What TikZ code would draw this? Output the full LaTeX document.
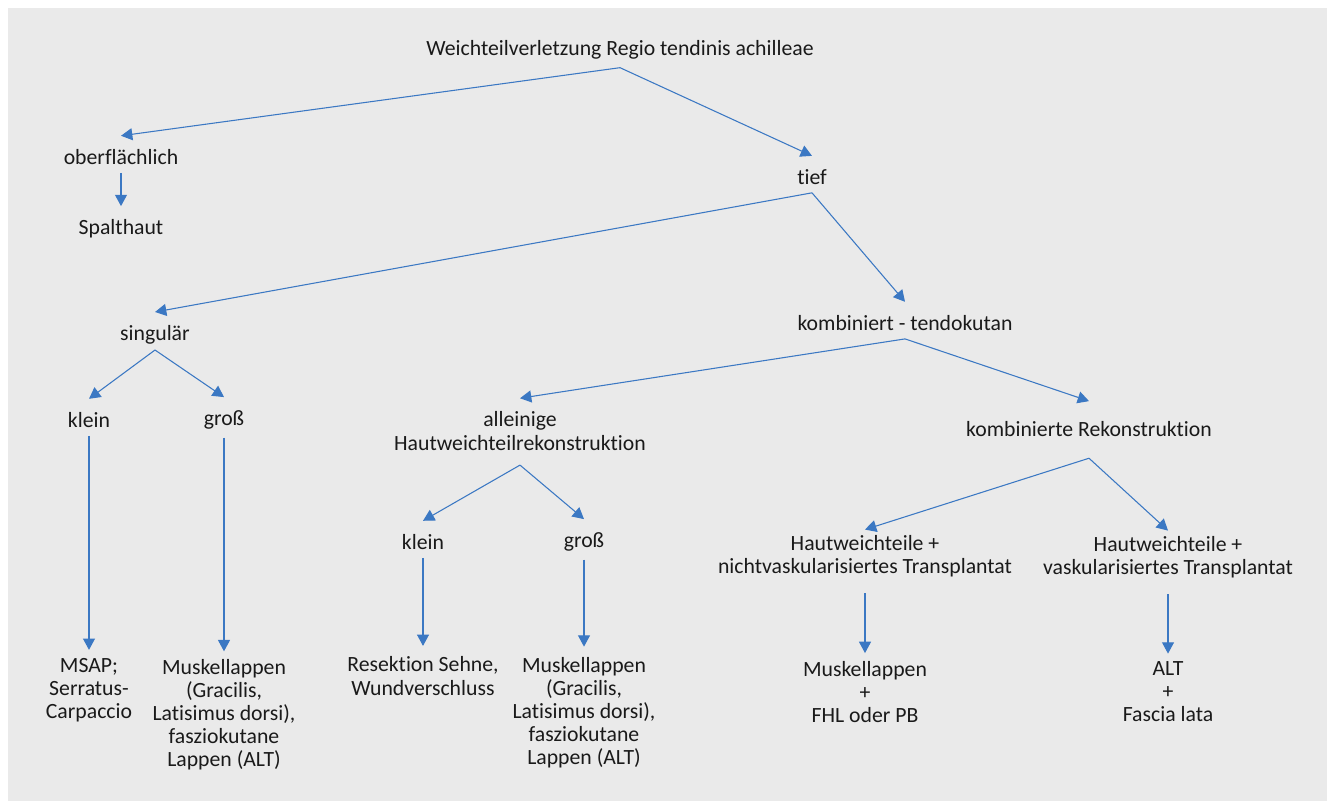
\documentclass[tikz,border=0pt]{standalone}
\usepackage{fontspec}
\setmainfont{Carlito}[Ligatures=NoCommon]
\usepackage{tikz}
\usetikzlibrary{arrows.meta,calc}

\definecolor{panelgray}{HTML}{EAEAEA}
\definecolor{arrowblue}{HTML}{3B78C3}
\definecolor{textblack}{HTML}{1A1A1A}

\begin{document}
\begin{tikzpicture}[x=0.75pt, y=-0.75pt,
    lbl/.style={align=center, inner sep=0pt, text=textblack, font=\fontsize{16.3}{17.3}\selectfont},
    arr/.style={color=arrowblue, line width=0.8pt, -{Triangle[length=8.5pt,width=9pt]}}]
    % background panel
    \useasboundingbox (0,0) rectangle (1327,801);
    \fill[panelgray] (8,8) rectangle (1327,801);

    % top level
    \node[lbl] (root) at (620,50) {Weichteilverletzung Regio tendinis achilleae};
    \node[lbl] (ober) at (121,157) {oberflächlich};
    \node[lbl] (spalt) at (121,229) {Spalthaut};
    \node[lbl] (tief) at (812,177) {tief};

    % tief: singulaer branch
    \node[lbl] (sing) at (155,335) {singulär};
    \node[lbl] (kleinA) at (89,420) {klein};
    \node[lbl] (grossA) at (224,420) {groß};
    \node[lbl] (msap) at (89,690) {MSAP;\\Serratus-\\Carpaccio};
    \node[lbl] (muskA) at (224,715) {Muskellappen\\(Gracilis,\\Latisimus dorsi),\\fasziokutane\\Lappen (ALT)};

    % tief: kombiniert branch
    \node[lbl] (komb) at (905,323) {kombiniert - tendokutan};
    \node[lbl] (allein) at (520,431) {alleinige\\Hautweichteilrekonstruktion};
    \node[lbl] (kleinB) at (423,542) {klein};
    \node[lbl] (grossB) at (584,542) {groß};
    \node[lbl] (resek) at (423,676) {Resektion Sehne,\\Wundverschluss};
    \node[lbl] (muskB) at (584,713) {Muskellappen\\(Gracilis,\\Latisimus dorsi),\\fasziokutane\\Lappen (ALT)};

    \node[lbl] (kombrek) at (1089,429) {kombinierte Rekonstruktion};
    \node[lbl] (hwtL) at (865,556) {Hautweichteile +\\nichtvaskularisiertes Transplantat};
    \node[lbl] (hwtR) at (1168,557) {Hautweichteile +\\vaskularisiertes Transplantat};
    \node[lbl] (muskC) at (865,692) {Muskellappen\\+\\FHL oder PB};
    \node[lbl] (alt) at (1168,692) {ALT\\+\\Fascia lata};

    % connectors
    \draw[arr] ([yshift=-6pt]root.south) -- ([yshift=10pt]ober.north);
    \draw[arr] ([yshift=-6pt]root.south) -- ([yshift=10pt]tief.north);
    \draw[arr] ([yshift=-6pt]ober.south) -- ([yshift=10pt]spalt.north);
    \draw[arr] ([yshift=-6pt]tief.south) -- ([yshift=10pt]sing.north);
    \draw[arr] ([yshift=-6pt]tief.south) -- ([yshift=10pt]komb.north);
    \draw[arr] ([yshift=-4pt]sing.south) -- ([yshift=10pt]kleinA.north);
    \draw[arr] ([yshift=-4pt]sing.south) -- ([yshift=10pt]grossA.north);
    \draw[arr] ([yshift=-6pt]kleinA.south) -- ([yshift=6pt]msap.north);
    \draw[arr] ([yshift=-6pt]grossA.south) -- ([yshift=6pt]muskA.north);
    \draw[arr] ([yshift=-6pt]komb.south) -- ([yshift=10pt]allein.north);
    \draw[arr] ([yshift=-6pt]komb.south) -- ([yshift=15pt]kombrek.north);
    \draw[arr] ([yshift=-11pt]allein.south) -- ([yshift=10pt]kleinB.north);
    \draw[arr] ([yshift=-11pt]allein.south) -- ([yshift=10pt]grossB.north);
    \draw[arr] ([yshift=-6pt]kleinB.south) -- ([yshift=8pt]resek.north);
    \draw[arr] ([yshift=-6pt]grossB.south) -- ([yshift=8pt]muskB.north);
    \draw[arr] ([yshift=-16pt]kombrek.south) -- ([yshift=4pt]hwtL.north);
    \draw[arr] ([yshift=-16pt]kombrek.south) -- ([yshift=4pt]hwtR.north);
    \draw[arr] ([yshift=-12pt]hwtL.south) -- ([yshift=6pt]muskC.north);
    \draw[arr] ([yshift=-12pt]hwtR.south) -- ([yshift=6pt]alt.north);
\end{tikzpicture}
\end{document}
